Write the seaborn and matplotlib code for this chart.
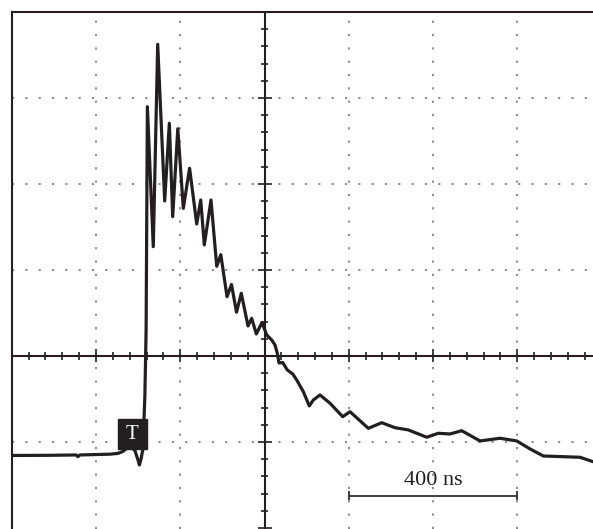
import numpy as np
import pandas as pd
import matplotlib
matplotlib.use("Agg")
import matplotlib.pyplot as plt
from matplotlib.patches import Rectangle
import seaborn as sns

# ---- data (time in ns relative to screen centre, amplitude in divisions) ----
time_ns = [-600, -509, -447, -443, -438, -367, -348, -336, -326, -316, -308,
           -301, -297, -293, -289, -287, -284, -281, -278,
           -264, -253.5, -236.9, -225.9, -217.9, -205.8, -192.7, -177.8,
           -160.9, -151.4, -142.9, -127.0, -113.4, -103.7, -89.0, -78.3,
           -66.5, -55.1, -39.2, -30.4, -19.5, -5.9, 5.2, 17.1, 24.9, 30.4,
           34.4, 43.2, 54.1, 66.9, 76.4, 92.1, 106.3, 115.8, 131.7, 155.5,
           185.6, 202.9, 246.4, 278.2, 309.7, 341.3, 385.0, 412.5, 440.3,
           468.0, 511.5, 558.9, 598.6, 630.1, 661.7, 748.8, 779.6]
signal_div = [-1.157, -1.155, -1.151, -1.171, -1.151, -1.142, -1.133, -1.110,
              -1.070, -1.070, -1.093,
              -1.198, -1.267, -1.198, -1.093, -0.860, -0.477, 0.302, 2.899,
              1.271, 3.624, 1.802, 2.706, 1.620, 2.643, 1.717, 2.183,
              1.535, 1.814, 1.291, 1.814, 1.043, 1.178, 0.690, 0.831,
              0.509, 0.729, 0.349, 0.438, 0.256, 0.390, 0.244, 0.186, 0.128, 0.031,
              -0.081, -0.076, -0.163, -0.209, -0.279, -0.415, -0.581, -0.512, -0.453, -0.550,
              -0.706, -0.648, -0.841, -0.776, -0.834, -0.860, -0.945, -0.899, -0.907,
              -0.869, -0.988, -0.957, -0.988, -1.081, -1.163, -1.178, -1.229]

ns_per_div = 200
x_range = (-600, 779.6)
y_range = (-2.012, 4.0)
grid_x = [-400, -200, 200, 400, 600]
grid_y = [-1, 1, 2, 3]
scale_bar_start = 200
scale_bar_len = 400
scale_bar_label = "400 ns"
trigger_label = "T"
trigger_time = -313.6
trigger_level = -0.907

df = pd.DataFrame({"t": time_ns, "v": signal_div})

ink = "#231f20"
W, H = 593, 529
fig = plt.figure(figsize=(W / 100, H / 100), dpi=100)
ax = fig.add_axes([11.7 / W, 0, (W - 11.7) / W, (H - 12) / H])
ax.set_xlim(*x_range)
ax.set_ylim(*y_range)
ax.set_xticks([])
ax.set_yticks([])
for s in ["right", "bottom"]:
    ax.spines[s].set_visible(False)
for s in ["left", "top"]:
    ax.spines[s].set_color(ink)
    ax.spines[s].set_linewidth(1.5)

# dotted graticule
for gx in grid_x:
    ax.axvline(gx, color="#8a8a8a", lw=1.4, ls=(0, (1.1, 5.75)), zorder=1)
for gy in grid_y:
    ax.axhline(gy, color="#8a8a8a", lw=1.4, ls=(0, (1.1, 5.75)), zorder=1)

# centre axes with ticks
ax.axhline(0, color=ink, lw=1.5, zorder=2)
ax.axvline(0, color=ink, lw=1.5, zorder=2)
px_x = ns_per_div / 84.27   # ns per pixel
px_y = 1 / 86.0             # div per pixel
tx = np.arange(-600, x_range[1], ns_per_div / 5)
major_x = np.isclose(np.mod(tx, ns_per_div), 0)
ax.vlines(tx[~major_x], -3.8 * px_y, 3.8 * px_y, color=ink, lw=1.2, zorder=2)
ax.vlines(tx[major_x], -6.5 * px_y, 6.5 * px_y, color=ink, lw=1.2, zorder=2)
ty = np.arange(-2.0, 4.01, 0.2)
major_y = np.isclose(ty, np.round(ty))
ax.hlines(ty[~major_y], -3.8 * px_x, 3.8 * px_x, color=ink, lw=1.2, zorder=2)
ax.hlines(ty[major_y], -7 * px_x, 7 * px_x, color=ink, lw=1.2, zorder=2)

# trace
sns.lineplot(data=df, x="t", y="v", sort=False, estimator=None, ax=ax,
             color=ink, lw=2.3, zorder=3)
for l in ax.lines[-1:]:
    l.set_solid_joinstyle("round")
    l.set_solid_capstyle("round")
ax.set_xlabel("")
ax.set_ylabel("")

# trigger marker
bw, bh = 29 * px_x, 30 * px_y
ax.add_patch(Rectangle((trigger_time - bw / 2, trigger_level - bh / 2), bw, bh,
                       facecolor=ink, edgecolor=ink, zorder=4))
ax.text(trigger_time, trigger_level - 1 * px_y, trigger_label, color="white",
        ha="center", va="center", fontsize=15, family="Liberation Serif", zorder=5)

# scale bar
bar_y = -1.624
ax.hlines(bar_y, scale_bar_start, scale_bar_start + scale_bar_len, color=ink, lw=1.2)
ax.vlines([scale_bar_start, scale_bar_start + scale_bar_len],
          bar_y - 4.5 * px_y, bar_y + 4.5 * px_y, color=ink, lw=1.2)
ax.text(scale_bar_start + scale_bar_len / 2, -1.50, scale_bar_label,
        ha="center", va="baseline", fontsize=16, family="Liberation Serif", color=ink)

fig.savefig("out.png", dpi=100, facecolor="white")
